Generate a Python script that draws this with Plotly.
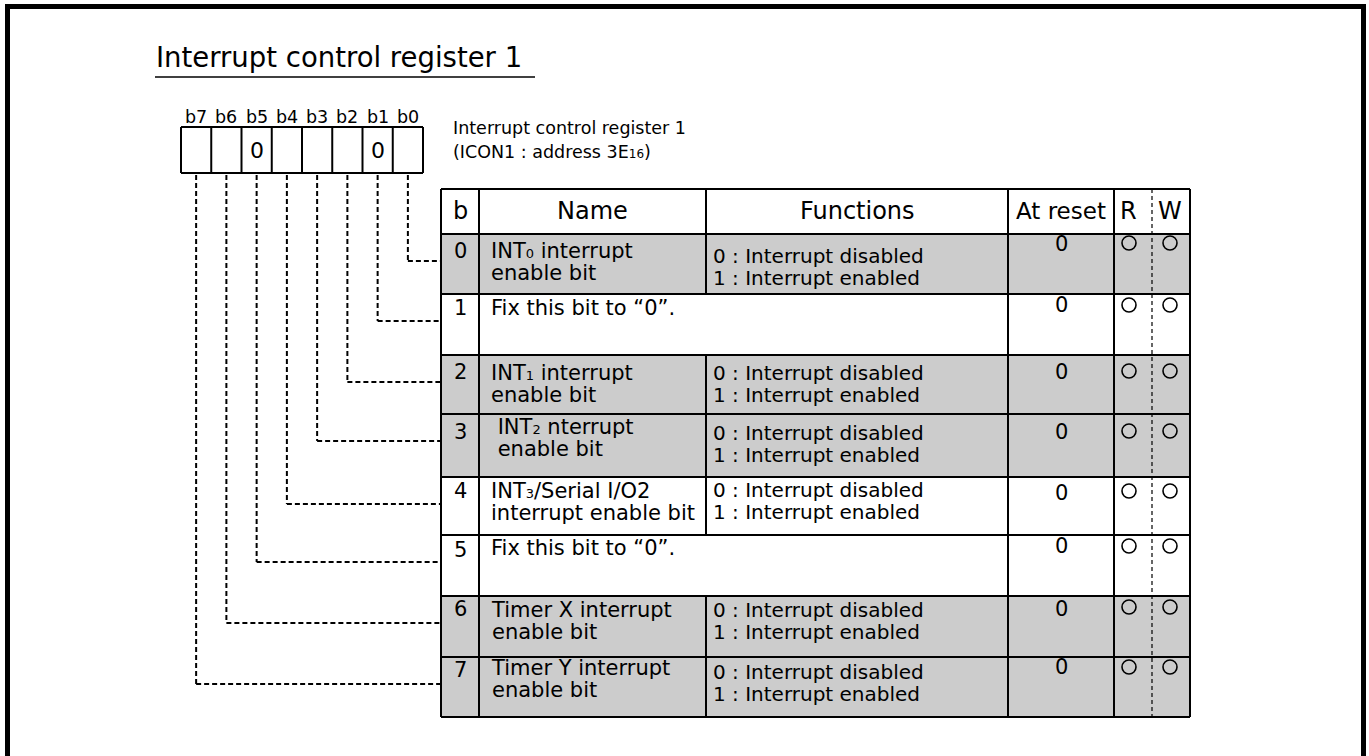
import plotly.graph_objects as go

# ---------------- data ----------------
TITLE = "Interrupt control register 1"
REG_LABEL = ["Interrupt control register 1",
             "(ICON1 : address 3E<span style='font-size:12px'>16</span>)"]
BIT_LABELS = ["b7", "b6", "b5", "b4", "b3", "b2", "b1", "b0"]
BIT_VALUES = ["", "", "0", "", "", "", "0", ""]          # b7 .. b0
HEADERS = ["b", "Name", "Functions", "At reset", "R", "W"]
BITS = ["0", "1", "2", "3", "4", "5", "6", "7"]
SUB = "<span style='font-size:13px'>{}</span>"
NAMES = [
    ["INT" + SUB.format("0") + " interrupt", "enable bit"],
    ["Fix this bit to \u201c0\u201d."],
    ["INT" + SUB.format("1") + " interrupt", "enable bit"],
    [" INT" + SUB.format("2") + " nterrupt", " enable bit"],
    ["INT" + SUB.format("3") + "/Serial I/O2", "interrupt enable bit"],
    ["Fix this bit to \u201c0\u201d."],
    ["Timer X interrupt", "enable bit"],
    ["Timer Y interrupt", "enable bit"],
]
FUNCTIONS = [
    ["0 : Interrupt disabled", "1 : Interrupt enabled"],
    [],
    ["0 : Interrupt disabled", "1 : Interrupt enabled"],
    ["0 : Interrupt disabled", "1 : Interrupt enabled"],
    ["0 : Interrupt disabled", "1 : Interrupt enabled"],
    [],
    ["0 : Interrupt disabled", "1 : Interrupt enabled"],
    ["0 : Interrupt disabled", "1 : Interrupt enabled"],
]
RESET = ["0", "0", "0", "0", "0", "0", "0", "0"]
READ = ["O", "O", "O", "O", "O", "O", "O", "O"]
WRITE = ["O", "O", "O", "O", "O", "O", "O", "O"]
SHADED = [True, False, True, True, False, False, True, True]

# ---------------- layout constants (pixels) ----------------
W, H = 1369, 756
FONT = "DejaVu Sans"
GRAY = "#cccccc"
COLX = [441, 479, 706, 1008, 1114, 1152, 1190]   # table column edges
ROWY = [189, 234, 294, 355, 414, 477, 535, 596, 657, 717]  # header + 8 rows
REG_X0, REG_CW, REG_Y0, REG_Y1 = 181, 30.25, 127, 173
# vertical offsets of the row contents from the row top
B_OFF = [17, 14, 17, 18, 14, 15, 13, 13]
NAME_OFF = [28, 14, 29, 23.5, 25, 13, 24.5, 21.5]
FUNC_OFF = [33, 0, 29, 29.5, 23.5, 0, 24.5, 25.5]
RESET_OFF = [10, 11, 17, 18, 16, 11, 13, 10]
MARK_OFF = [9, 11, 16, 17, 14, 11, 11, 10]

shapes = []
ann = []


def line(x0, y0, x1, y1, w=2, dash=None, color="black"):
    d = dict(type="line", x0=x0, y0=y0, x1=x1, y1=y1, xref="x", yref="y",
             line=dict(color=color, width=w))
    if dash:
        d["line"]["dash"] = dash
    shapes.append(d)


def text(x, y, s, size=20, anchor="left"):
    ann.append(dict(x=x, y=y, xref="x", yref="y", text=s, showarrow=False,
                    xanchor=anchor, yanchor="middle", align=anchor,
                    font=dict(family=FONT, size=size, color="black")))


def block(x, y, lines, size=20, spacing=17, anchor="left"):
    # multi-line text; the base font size sets the (tight) line spacing
    s = "<br>".join("<span style='font-size:%spx'>%s</span>" % (size, ln) for ln in lines)
    text(x, y, s, size=spacing, anchor=anchor)


# outer frame
line(7.5, 4, 7.5, H + 10, w=5)
line(5, 6.5, 1366, 6.5, w=5)
line(1363.5, 4, 1363.5, H + 10, w=5)

# title
text(154, 57, TITLE, size=27.5)
line(155, 77, 535, 77, w=1.5)

# register boxes
for i, (lab, val) in enumerate(zip(BIT_LABELS, BIT_VALUES)):
    x0 = REG_X0 + i * REG_CW
    cx = x0 + REG_CW / 2
    text(cx, 117, lab, size=17.5, anchor="center")
    if val:
        text(cx, 150, val, size=22, anchor="center")
for i in range(9):
    x = REG_X0 + i * REG_CW
    line(x, REG_Y0, x, REG_Y1)
line(REG_X0, REG_Y0, REG_X0 + 8 * REG_CW, REG_Y0)
line(REG_X0, REG_Y1, REG_X0 + 8 * REG_CW, REG_Y1)

text(451, 128, REG_LABEL[0], size=17.5)
text(451, 152, REG_LABEL[1], size=17.5)

# row fills
for r, sh in enumerate(SHADED):
    if sh:
        shapes.append(dict(type="rect", x0=COLX[0], x1=COLX[-1], y0=ROWY[r + 1],
                           y1=ROWY[r + 2], xref="x", yref="y", layer="below",
                           fillcolor=GRAY, line=dict(width=0)))

# connectors from register bits to rows
for r, b in enumerate(BITS):
    bit = int(b)
    cx = REG_X0 + (7 - bit) * REG_CW + REG_CW / 2
    cy = ROWY[r + 1] + 27
    line(cx, REG_Y1 + 2, cx, cy, w=2, dash="5px,3px")
    line(cx, cy, COLX[0], cy, w=2, dash="5px,3px")

# table grid
for y in ROWY:
    line(COLX[0], y, COLX[-1], y)
for x in (COLX[0], COLX[1], COLX[3], COLX[4], COLX[6]):
    line(x, ROWY[0], x, ROWY[-1])
# name/functions divider (absent where the name spans both)
line(COLX[2], ROWY[0], COLX[2], ROWY[1])
for r, f in enumerate(FUNCTIONS):
    if f:
        line(COLX[2], ROWY[r + 1], COLX[2], ROWY[r + 2])
# R/W dashed divider
line(COLX[5], ROWY[0], COLX[5], ROWY[-1], w=1.2, dash="4px,3px")

# header text
hy = (ROWY[0] + ROWY[1]) / 2 - 1
text((COLX[0] + COLX[1]) / 2, hy, HEADERS[0], size=24, anchor="center")
text((COLX[1] + COLX[2]) / 2, hy, HEADERS[1], size=24, anchor="center")
text((COLX[2] + COLX[3]) / 2, hy, HEADERS[2], size=24, anchor="center")
text((COLX[3] + COLX[4]) / 2, hy, HEADERS[3], size=23, anchor="center")
text(1128, hy, HEADERS[4], size=24, anchor="center")
text(1170, hy, HEADERS[5], size=24, anchor="center")

# row contents
rx, ry, wx, wy = [], [], [], []
for r in range(8):
    top = ROWY[r + 1]
    text((COLX[0] + COLX[1]) / 2, top + B_OFF[r], BITS[r], size=21, anchor="center")
    nm = NAMES[r]
    if len(nm) == 1:
        text(489, top + NAME_OFF[r], nm[0], size=21)
    else:
        block(489, top + NAME_OFF[r], nm, size=21)
    if FUNCTIONS[r]:
        block(711, top + FUNC_OFF[r], FUNCTIONS[r], size=20)
    text((COLX[3] + COLX[4]) / 2, top + RESET_OFF[r], RESET[r], size=21, anchor="center")
    if READ[r]:
        rx.append(1129); ry.append(top + MARK_OFF[r])
    if WRITE[r]:
        wx.append(1170); wy.append(top + MARK_OFF[r])

fig = go.Figure()
fig.add_trace(go.Scatter(x=rx + wx, y=ry + wy, mode="markers", hoverinfo="skip",
                         marker=dict(symbol="circle-open", size=14, color="black",
                                     line=dict(width=1.6, color="black"))))

fig.update_layout(
    width=W, height=H, margin=dict(l=0, r=0, t=0, b=0),
    paper_bgcolor="white", plot_bgcolor="white", showlegend=False,
    xaxis=dict(range=[0, W], visible=False, fixedrange=True),
    yaxis=dict(range=[H, 0], visible=False, fixedrange=True),
    shapes=shapes, annotations=ann,
)

fig.write_html("out.html", config={"displayModeBar": False},
               post_script="document.body.style.margin='0';")
